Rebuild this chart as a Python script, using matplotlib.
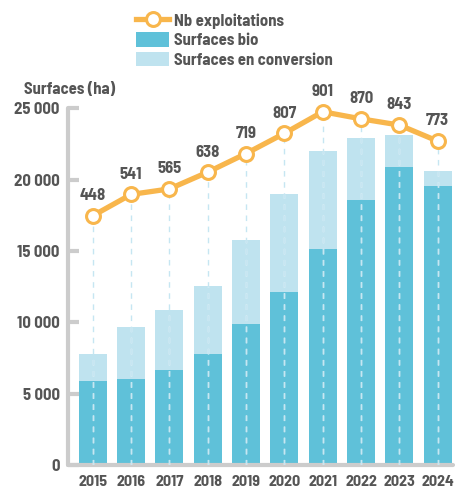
import matplotlib.pyplot as plt
from matplotlib.lines import Line2D
from matplotlib.patches import Patch
from matplotlib.ticker import FuncFormatter
import numpy as np

# Data
years = ['2015', '2016', '2017', '2018', '2019', '2020', '2021', '2022', '2023', '2024']
surf_bio = [5900, 6030, 6660, 7780, 9890, 12130, 15150, 18580, 20900, 19570]
surf_total = [7800, 9680, 10870, 12570, 15780, 19000, 22020, 22930, 23140, 20620]
nb_exploit = [448, 541, 565, 638, 719, 807, 901, 870, 843, 773]

surf_conv = [t - b for t, b in zip(surf_total, surf_bio)]

# Colours
c_bio = '#5fc1d9'
c_conv = '#bfe3ef'
c_line = '#f8b64c'
c_text = '#555555'
c_axis = '#cccccc'

plt.rcParams['font.family'] = ['Barlow Semi Condensed', 'DejaVu Sans']
plt.rcParams['font.weight'] = 'bold'

fig = plt.figure(figsize=(4.69, 4.90), dpi=100)
ax = fig.add_axes([0.145, 0.051, 0.821, 0.728])
x = np.arange(len(years))

# second axis for the number of farms
ax2 = ax.twinx()
ax2.set_ylim(-637, 916)

ax.bar(x, surf_bio, width=0.73, color=c_bio, zorder=2)
ax.bar(x, surf_conv, width=0.73, bottom=surf_bio, color=c_conv, zorder=2)

# dashed guides: light blue up to the marker, white inside the bars
for i in range(len(years)):
    ax2.plot([x[i], x[i]], [-637, nb_exploit[i]], color='#c6e6f2', lw=1,
             ls=(0, (4, 4)), zorder=1)
    ax.plot([x[i], x[i]], [0, surf_total[i]], color='white', lw=1,
            ls=(0, (4, 4)), zorder=3, alpha=0.9)

ax.set_zorder(1)
ax2.set_zorder(2)
ax.patch.set_visible(False)

ax2.plot(x, nb_exploit, color=c_line, lw=3.8, marker='o', ms=10,
         mfc='white', mec=c_line, mew=2.2, zorder=5, clip_on=False)
for i, v in enumerate(nb_exploit):
    ax2.annotate(str(v), (x[i], v), xytext=(0, 14.5), textcoords='offset points',
                 ha='center', va='center', fontsize=12, fontweight='bold',
                 color=c_text)

ax.set_xlim(-0.645, 9.4)
ax.set_ylim(0, 25000)
ax.set_yticks([0, 5000, 10000, 15000, 20000, 25000])
ax.yaxis.set_major_formatter(FuncFormatter(lambda v, p: f'{int(v):,}'.replace(',', ' ')))
ax.set_xticks(x)
ax.set_xticklabels(years)

for s in ['top', 'right']:
    ax.spines[s].set_visible(False)
for s in ['left', 'bottom']:
    ax.spines[s].set_color(c_axis)
    ax.spines[s].set_linewidth(3)
    ax.spines[s].set_capstyle('round')
ax.tick_params(axis='y', direction='in', length=8, width=3, color=c_axis,
               labelsize=12, labelcolor=c_text, pad=6)
ax.tick_params(axis='x', length=0, labelsize=11.5, labelcolor=c_text, pad=7.5)

ax2.axis('off')

fig.text(0.051, 0.818, 'Surfaces (ha)', fontsize=12, fontweight='bold',
         color=c_text, va='center')

handles = [
    Line2D([], [], color=c_line, lw=3.8, marker='o', ms=10, mfc='white',
           mec=c_line, mew=2.2),
    Patch(facecolor=c_bio),
    Patch(facecolor=c_conv),
]
labels = ['Nb exploitations', 'Surfaces bio', 'Surfaces en conversion']
leg = fig.legend(handles, labels, loc='upper left', bbox_to_anchor=(0.283, 0.981),
                 frameon=False, handlelength=2.0, handleheight=0.96,
                 labelspacing=0.22, handletextpad=0.3, borderpad=0.2,
                 borderaxespad=0, prop={'weight': 'bold', 'size': 12})
for t in leg.get_texts():
    t.set_color(c_text)

fig.savefig('out.png', dpi=100)
